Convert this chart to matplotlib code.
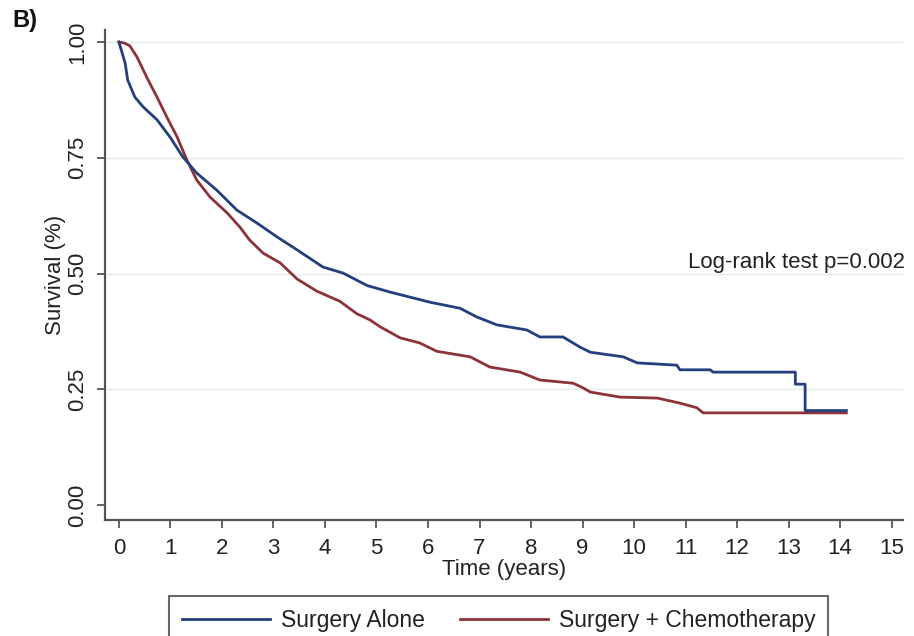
import matplotlib
matplotlib.use("Agg")
import matplotlib.pyplot as plt

plt.rcParams['font.family'] = ['Liberation Sans', 'DejaVu Sans']

# Surgery Alone (blue)
alone_t = [0.00, 0.12, 0.17, 0.31, 0.47, 0.74, 0.99, 1.24, 1.51, 1.90, 2.29, 2.68,
           3.07, 3.46, 3.96, 4.35, 4.82, 5.26, 5.65, 6.04, 6.62, 6.95, 7.34, 7.92,
           8.17, 8.62, 8.95, 9.15, 9.79, 10.06, 10.83, 10.89, 11.48, 11.53, 13.13,
           13.13, 13.32, 13.32, 14.12]
alone_s = [1.000, 0.955, 0.918, 0.881, 0.860, 0.832, 0.795, 0.752, 0.717, 0.680, 0.637, 0.609,
           0.579, 0.551, 0.514, 0.501, 0.474, 0.460, 0.449, 0.438, 0.425, 0.406, 0.389, 0.378,
           0.363, 0.363, 0.341, 0.330, 0.320, 0.307, 0.302, 0.292, 0.292, 0.287, 0.287,
           0.261, 0.261, 0.204, 0.204]

# Surgery + Chemotherapy (red)
chemo_t = [0.00, 0.10, 0.21, 0.35, 0.54, 0.74, 0.93, 1.13, 1.32, 1.51, 1.77, 2.10,
           2.35, 2.54, 2.80, 3.13, 3.46, 3.84, 4.29, 4.62, 4.87, 5.07, 5.46, 5.84,
           6.17, 6.82, 7.20, 7.79, 8.17, 8.82, 9.01, 9.15, 9.73, 10.45, 10.89, 11.22,
           11.34, 14.12]
chemo_s = [1.000, 0.998, 0.992, 0.968, 0.924, 0.881, 0.838, 0.795, 0.745, 0.702, 0.665, 0.631,
           0.600, 0.572, 0.544, 0.523, 0.488, 0.462, 0.440, 0.413, 0.400, 0.385, 0.361, 0.350,
           0.332, 0.320, 0.298, 0.287, 0.270, 0.263, 0.253, 0.244, 0.233, 0.231, 0.220, 0.210,
           0.199, 0.199]

x_ticks = list(range(0, 16))
y_ticks = [0.00, 0.25, 0.50, 0.75, 1.00]
y_ticklabels = ["0.00", "0.25", "0.50", "0.75", "1.00"]
grid_levels = [0.25, 0.50, 0.75, 1.00]

BLUE = '#233f7d'
RED = '#8c3339'
AX = '#555555'
FS = 16

fig = plt.figure(figsize=(9.14, 6.36), dpi=100)
ax = fig.add_axes([105/914, 1-520/636, (903-105)/914, (520-30)/636])

for g in grid_levels:
    ax.axhline(g, color='#e4ecec', lw=1.0, zorder=0)

ax.plot(alone_t, alone_s, color=BLUE, lw=2.0, label='Surgery Alone', zorder=3)
ax.plot(chemo_t, chemo_s, color=RED, lw=2.0, label='Surgery + Chemotherapy', zorder=2)

ax.set_xlim(-0.27, 15.22)
ax.set_ylim(-0.0324, 1.026)

for s in ['top', 'right']:
    ax.spines[s].set_visible(False)
for s in ['left', 'bottom']:
    ax.spines[s].set_color(AX)
    ax.spines[s].set_linewidth(1.6)

ax.set_xticks(x_ticks)
ax.set_yticks(y_ticks)
ax.set_yticklabels(y_ticklabels, rotation=90, va='center')
ax.tick_params(axis='both', colors=AX, length=6, width=1.3, labelsize=FS,
               labelcolor='#222222')
ax.tick_params(axis='x', pad=7)
ax.tick_params(axis='y', pad=6)

ax.set_xlabel('Time (years)', fontsize=FS, color='#222222', labelpad=0)
ax.set_ylabel('Survival (%)', fontsize=FS, color='#222222', labelpad=1)

ax.text(1.002, (505-262)/463, 'Log-rank test p=0.002', transform=ax.get_yaxis_transform(),
        ha='right', va='center', fontsize=FS, color='#222222')

fig.text(12/914, 1-20/636, 'B)', fontsize=17, fontweight='bold', ha='left', va='center',
         color='#111111')

leg = fig.legend(loc='upper left', bbox_to_anchor=(169/914, 1-596/636), ncol=2,
                 fontsize=16.5, frameon=True, fancybox=False, handlelength=3.85,
                 handletextpad=0.5, columnspacing=1.5, borderpad=0.55,
                 borderaxespad=0)
leg.get_frame().set_edgecolor('#444444')
leg.get_frame().set_linewidth(1.5)
for t in leg.get_texts():
    t.set_color('#222222')

fig.savefig('out.png', dpi=100)
